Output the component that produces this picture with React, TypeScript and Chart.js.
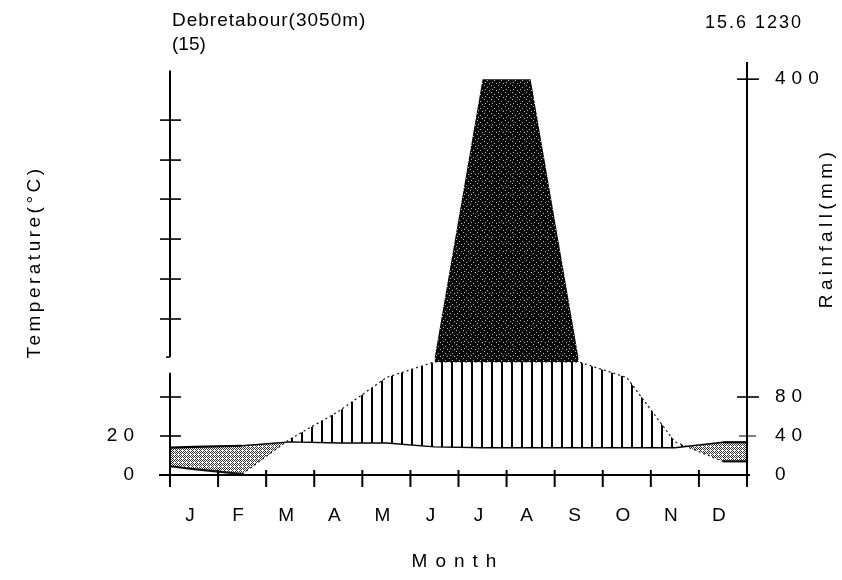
import { useEffect, useRef } from "react";
import { Chart, registerables } from "chart.js";

Chart.register(...registerables);

// ---- data ----
const months = ["J", "F", "M", "A", "M", "J", "J", "A", "S", "O", "N", "D"];
const temperatureC = [14.4, 15, 17, 16.4, 16.4, 14.4, 14, 14, 14, 14, 14, 16.8];
const rainfallMm = [6, 1, 37, 65, 100, 103, 400, 400, 103, 100, 34, 14];
// values read at the left (1 Jan) and right (31 Dec) edges of the diagram
const edgeTemperatureC = [14, 16.8];
const edgeRainfallMm = [9, 14];
const leftTickTempsC = [0, 20];
const rightTickRainMm = [0, 40, 80, 400];
const stationTitle = "Debretabour(3050m)";
const yearsLabel = "(15)";
const meanTempLabel = "15.6";
const annualRainLabel = "1230";

// ---- Walter-Lieth style scale mapping (10 °C = 20 mm, compressed above 100 mm) ----
const HUMID_CAP = 116;
const TOP_UNIT = 406;
const Y_MAX = 423.6;
const tU = (c: number) => c * 2;
const rU = (mm: number) => (mm <= 100 ? mm : HUMID_CAP + ((mm - 100) * (TOP_UNIT - HUMID_CAP)) / 300);

const FONT = "'Liberation Sans', Arial, sans-serif";

function makePattern(target: CanvasRenderingContext2D, w: number, h: number, draw: (g: CanvasRenderingContext2D) => void) {
  const c = document.createElement("canvas");
  c.width = w;
  c.height = h;
  const g = c.getContext("2d")!;
  draw(g);
  return target.createPattern(c, "repeat")!;
}

export default function App() {
  const ref = useRef<HTMLCanvasElement>(null);

  useEffect(() => {
    const canvas = ref.current!;
    const ctx0 = canvas.getContext("2d")!;

    const hatch = makePattern(ctx0, 10, 4, (g) => {
      g.fillStyle = "#000";
      g.fillRect(1, 0, 2, 4);
    });
    const dots = makePattern(ctx0, 4, 4, (g) => {
      g.fillStyle = "#333";
      for (let yy = 0; yy < 4; yy++) {
        for (let xx = 0; xx < 4; xx++) {
          if ((xx + yy) % 2 === 0 && !(xx === 2 && yy === 2)) g.fillRect(xx, yy, 1, 1);
        }
      }
    });
    const black = makePattern(ctx0, 7, 7, (g) => {
      g.fillStyle = "#080808";
      g.fillRect(0, 0, 7, 7);
      g.fillStyle = "#bbb";
      g.fillRect(1, 1, 1, 1);
      g.fillRect(4, 3, 1, 1);
      g.fillRect(2, 5, 1, 1);
      g.fillRect(6, 6, 1, 1);
    });

    const tempPts = [
      { x: 0, y: tU(edgeTemperatureC[0]) },
      ...temperatureC.map((t, i) => ({ x: i + 0.5, y: tU(t) })),
      { x: 12, y: tU(edgeTemperatureC[1]) },
    ];
    const humidTop = (mm: number) => (mm <= 100 ? mm : HUMID_CAP);
    const rainPts = [
      { x: 0, y: humidTop(edgeRainfallMm[0]) },
      ...rainfallMm.map((r, i) => ({ x: i + 0.5, y: humidTop(r) })),
      { x: 12, y: humidTop(edgeRainfallMm[1]) },
    ];
    const blackPts = rainfallMm.map((r, i) => ({ x: i + 0.5, y: r > 100 ? rU(r) : null }));
    const isDry = (a: number, b: number) => rainPts[a].y <= tempPts[a].y && rainPts[b].y <= tempPts[b].y;

    const letterSpacingPlugin = {
      id: "spacing",
      beforeDraw(chart: any) {
        chart.ctx.letterSpacing = "6px";
      },
      beforeDatasetsDraw(chart: any) {
        chart.ctx.letterSpacing = "0px";
      },
    };

    const decorPlugin = {
      id: "decor",
      afterDatasetsDraw(chart: any) {
        const { ctx } = chart;
        const x = chart.scales.x;
        const y = chart.scales.y;
        const x0 = x.getPixelForValue(0);
        const x12 = x.getPixelForValue(12);
        const yb = y.getPixelForValue(0);
        const line = (a: number, b: number, c: number, d: number) => {
          ctx.beginPath();
          ctx.moveTo(a, b);
          ctx.lineTo(c, d);
          ctx.stroke();
        };
        ctx.save();
        ctx.strokeStyle = "#000";
        ctx.lineWidth = 2;
        ctx.lineCap = "butt";
        // bottom axis
        line(x0 - 11, yb, x12 + 3, yb);
        for (let k = 0; k <= 12; k++) {
          const px = x.getPixelForValue(k);
          line(px, yb - 5, px, yb + 12);
        }
        // left axis (broken)
        line(x0, yb, x0, y.getPixelForValue(105));
        line(x0, y.getPixelForValue(121), x0, y.getPixelForValue(415));
        ctx.lineWidth = 1.6;
        [40, 80, 160, 201, 242, 283, 323, 364].forEach((v) => {
          const py = y.getPixelForValue(v);
          line(x0 - 10, py, x0 + 11, py);
        });
        line(x0, y.getPixelForValue(121), x0 - 4, y.getPixelForValue(121));
        // right axis
        ctx.lineWidth = 2;
        line(x12, yb, x12, chart.chartArea.top);
        ctx.lineWidth = 1.6;
        [80, 400].forEach((mm) => {
          const py = y.getPixelForValue(rU(mm));
          line(x12 - 10, py, x12 + 12, py);
        });
        ctx.lineWidth = 1;
        const p40 = y.getPixelForValue(rU(40));
        line(x12 - 8, p40, x12 + 9, p40);
        ctx.restore();
      },
      afterDraw(chart: any) {
        const { ctx } = chart;
        const txt = (s: string, px: number, py: number, size: number, spacing: number, align: CanvasTextAlign, rot = 0) => {
          ctx.save();
          ctx.font = `${size}px ${FONT}`;
          ctx.fillStyle = "#000";
          ctx.textAlign = align;
          ctx.textBaseline = "middle";
          ctx.letterSpacing = `${spacing}px`;
          ctx.translate(px, py);
          if (rot) ctx.rotate(rot);
          ctx.fillText(s, 0, 0);
          ctx.restore();
        };
        txt(stationTitle, 172, 21, 19, 1, "left");
        txt(yearsLabel, 172, 45, 19, 0, "left");
        txt(`${meanTempLabel} ${annualRainLabel}`, 705, 23, 18, 2, "left");
        txt("Temperature(°C)", 35, 262, 19, 3.5, "center", -Math.PI / 2);
        txt("Rainfall(mm)", 827, 228, 19, 4.4, "center", -Math.PI / 2);
        txt("Month", 458, 562, 19, 8, "center");
      },
    };

    const chart = new Chart(canvas, {
      type: "line",
      data: {
        datasets: [
          {
            label: "Temperature",
            data: tempPts,
            borderColor: "#000",
            borderWidth: 1.6,
            pointRadius: 0,
            fill: false,
            tension: 0,
            yAxisID: "y",
            segment: {
              borderWidth: (c: any) => (isDry(c.p0DataIndex, c.p1DataIndex) ? 2.2 : 1.4),
            },
          },
          {
            label: "Rainfall",
            data: rainPts,
            borderColor: "#111",
            borderWidth: 1.2,
            pointRadius: 0,
            tension: 0,
            yAxisID: "y",
            fill: { target: 0, above: hatch, below: dots },
            segment: {
              borderDash: (c: any) => (isDry(c.p0DataIndex, c.p1DataIndex) ? [] : [2, 3]),
              borderWidth: (c: any) => (isDry(c.p0DataIndex, c.p1DataIndex) ? 2.2 : 1.2),
            },
          },
          {
            label: "Rainfall above 100 mm",
            data: blackPts as any,
            borderColor: "rgba(0,0,0,0)",
            borderWidth: 0,
            pointRadius: 0,
            tension: 0,
            spanGaps: false,
            yAxisID: "y",
            fill: { target: { value: HUMID_CAP }, above: black, below: "rgba(0,0,0,0)" },
          },
        ],
      },
      options: {
        responsive: false,
        animation: false,
        events: [],
        layout: { padding: { top: 62, left: 0, right: 0, bottom: 0 } },
        plugins: { legend: { display: false }, tooltip: { enabled: false } },
        scales: {
          x: {
            type: "linear",
            min: 0,
            max: 12,
            grid: { display: false, drawTicks: false },
            border: { display: false },
            afterBuildTicks: (s: any) => {
              s.ticks = months.map((_, i) => ({ value: i + 0.5 }));
            },
            afterFit: (s: any) => {
              s.height = 105;
            },
            ticks: {
              autoSkip: false,
              maxRotation: 0,
              padding: 29,
              labelOffset: -1,
              color: "#000",
              font: { family: FONT, size: 19 },
              callback: (_v: any, i: number) => months[i],
            },
          },
          y: {
            type: "linear",
            position: "left",
            min: 0,
            max: Y_MAX,
            grid: { display: false, drawTicks: false },
            border: { display: false },
            afterBuildTicks: (s: any) => {
              s.ticks = leftTickTempsC.map((t) => ({ value: tU(t) }));
            },
            afterFit: (s: any) => {
              s.width = 170;
            },
            ticks: {
              padding: 30,
              color: "#000",
              font: { family: FONT, size: 19 },
              callback: (_v: any, i: number) => String(leftTickTempsC[i]),
            },
          },
          y2: {
            type: "linear",
            position: "right",
            min: 0,
            max: Y_MAX,
            grid: { display: false, drawTicks: false },
            border: { display: false },
            afterBuildTicks: (s: any) => {
              s.ticks = rightTickRainMm.map((mm) => ({ value: rU(mm) }));
            },
            afterFit: (s: any) => {
              s.width = 95;
            },
            ticks: {
              padding: 28,
              color: "#000",
              font: { family: FONT, size: 19 },
              callback: (_v: any, i: number) => String(rightTickRainMm[i]),
            },
          },
        },
      },
      plugins: [letterSpacingPlugin, decorPlugin],
    } as any);

    return () => chart.destroy();
  }, []);

  return (
    <div style={{ position: "fixed", left: 0, top: 0, width: 842, height: 580, background: "#fff" }}>
      <canvas ref={ref} width={842} height={580} style={{ display: "block", width: 842, height: 580 }} />
    </div>
  );
}
